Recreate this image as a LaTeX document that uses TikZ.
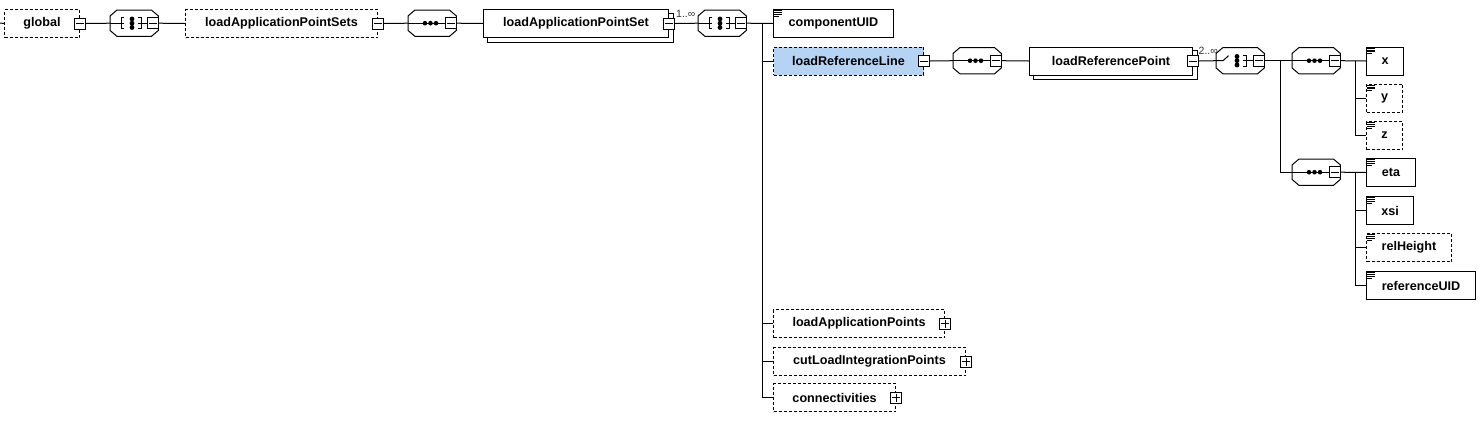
\documentclass[tikz,border=0pt]{standalone}
\usepackage{fontspec}
\setmainfont{Liberation Sans}
\definecolor{selblue}{RGB}{181,211,243}
\newcommand\elfont{\fontsize{12.6}{14}\selectfont\bfseries}
\newcommand\mlabfont{\fontsize{10.5}{12}\selectfont}
\tikzset{
  conn/.style={line width=1pt},
  elem/.style={draw, line width=1pt, fill=white, anchor=north west, font=\elfont, minimum height=28pt, inner sep=0pt},
  opt/.style={elem, dash pattern=on 3pt off 2pt},
  sqbox/.style={draw, line width=1pt, fill=white, minimum size=11pt, inner sep=0pt},
  comp/.style={minimum width=48pt, minimum height=26pt, anchor=north west, inner sep=0pt},
  mult/.style={font=\mlabfont, text=black!80, anchor=base west, inner sep=0pt}
}
\newcommand\mybminus[2]{\node[sqbox] (#1) at (#2) {};
  \draw[conn] ([xshift=2pt]#1.west) -- ([xshift=-2pt]#1.east);}
\newcommand\mybplus[2]{\node[sqbox] (#1) at (#2) {};
  \draw[conn] ([xshift=2pt]#1.west) -- ([xshift=-2pt]#1.east);
  \draw[conn] ([yshift=-2pt]#1.north) -- ([yshift=2pt]#1.south);}
\newcommand\compoct[1]{\draw[conn, fill=white] ([xshift=7pt]#1.north west) -- ([xshift=-7pt]#1.north east) -- ([yshift=-6pt]#1.north east) -- ([yshift=6pt]#1.south east) -- ([xshift=-7pt]#1.south east) -- ([xshift=7pt]#1.south west) -- ([yshift=6pt]#1.south west) -- ([yshift=-6pt]#1.north west) -- cycle;}
\newcommand\mydotcol[2]{\fill ([shift={(#2,4.3pt)}]#1.west) circle (2.4pt) ([xshift=#2]#1.west) circle (2.4pt) ([shift={(#2,-4.3pt)}]#1.west) circle (2.4pt);}
\newcommand\seqsym[2]{\draw[conn] (#1.west) -- (#2.west);
  \fill ([xshift=17pt]#1.west) circle (2.3pt) ([xshift=22.5pt]#1.west) circle (2.3pt) ([xshift=28pt]#1.west) circle (2.3pt);}
\newcommand\myrbrack[3]{% comp, x of bar, square
  \draw[conn] ([shift={(#2-3pt,5.5pt)}]#1.west) -- ([shift={(#2,5.5pt)}]#1.west) -- ([shift={(#2,-5.5pt)}]#1.west) -- ([shift={(#2-3pt,-5.5pt)}]#1.west);
  \draw[conn] ([xshift=#2-3pt]#1.west) -- (#3.west);}
\newcommand\allsym[2]{\draw[conn] (#1.west) -- ([xshift=14pt]#1.west);
  \draw[conn] ([shift={(14pt,5.5pt)}]#1.west) -- ([shift={(11pt,5.5pt)}]#1.west) -- ([shift={(11pt,-5.5pt)}]#1.west) -- ([shift={(14pt,-5.5pt)}]#1.west);
  \mydotcol{#1}{22pt}
  \myrbrack{#1}{31pt}{#2}}
\newcommand\choicesym[2]{\draw[conn] (#1.west) -- ([xshift=7pt]#1.west) -- ([shift={(12.5pt,5pt)}]#1.west);
  \mydotcol{#1}{21pt}
  \myrbrack{#1}{30pt}{#2}}
\newcommand\docicon[1]{\draw[line width=0.45pt] ([shift={(1pt,-1.6pt)}]#1.north west) -- ++(8pt,0pt) ([shift={(1pt,-3.4pt)}]#1.north west) -- ++(8pt,0pt) ([shift={(1pt,-5.2pt)}]#1.north west) -- ++(8pt,0pt) ([shift={(1pt,-7pt)}]#1.north west) -- ++(5pt,0pt);}
\newcommand\shadowbox[1]{\draw[conn] ([yshift=-4pt]#1.north east) -- ([shift={(4pt,-4pt)}]#1.north east) -- ([shift={(4pt,-4pt)}]#1.south east) -- ([shift={(4pt,-4pt)}]#1.south west) -- ([xshift=4pt]#1.south west);}
\begin{document}
\begin{tikzpicture}[x=1pt, y=-1pt]
\useasboundingbox (0,0) rectangle (1483,424);
% row 1
\coordinate (start) at (0,23);
\node[opt, minimum width=75pt] (global) at (4,9) {global};
\draw[conn] (start) -- (global.west);
\mybminus{mglobal}{global.east}
\node[comp] (c1) at (110,10) {};
\compoct{c1}
\mybminus{mc1}{[xshift=43pt]c1.west}
\allsym{c1}{mc1}
\draw[conn] (mglobal.east) -- (c1.west);
\node[opt, minimum width=192pt] (lAPSs) at (185,9) {loadApplicationPointSets};
\draw[conn] (mc1.east) -- (lAPSs.west);
\mybminus{mlAPSs}{lAPSs.east}
\node[comp] (c2) at (408,10) {};
\compoct{c2}
\mybminus{mc2}{[xshift=43pt]c2.west}
\seqsym{c2}{mc2}
\draw[conn] (mlAPSs.east) -- (c2.west);
\node[elem, minimum width=185pt] (lAPS) at (483,9) {loadApplicationPointSet};
\shadowbox{lAPS}
\draw[conn] (mc2.east) -- (lAPS.west);
\mybminus{mlAPS}{lAPS.east}
\node[mult] (m1) at (676,17) {1..∞};
\node[comp] (c3) at (698,10) {};
\compoct{c3}
\mybminus{mc3}{[xshift=43pt]c3.west}
\allsym{c3}{mc3}
\draw[conn] (mlAPS.east) -- (c3.west);
% children of loadApplicationPointSet
\coordinate (bus1) at (762,23);
\node[elem, minimum width=120pt] (cUID) at (773,9) {componentUID};
\docicon{cUID}
\draw[conn] (mc3.east) -- (cUID.west);
\node[opt, fill=selblue, minimum width=150pt] (lRL) at (773,46.5) {loadReferenceLine};
\mybminus{mlRL}{lRL.east}
\node[opt, minimum width=171pt] (lAPs) at (773,309) {loadApplicationPoints};
\mybplus{mlAPs}{lAPs.east}
\node[opt, minimum width=192pt] (cLIPs) at (773,347) {cutLoadIntegrationPoints};
\mybplus{mcLIPs}{cLIPs.east}
\node[opt, minimum width=122pt] (conns) at (773,383) {connectivities};
\mybplus{mconns}{conns.east}
\draw[conn] (bus1) |- (lRL.west);
\draw[conn] (bus1) |- (lAPs.west);
\draw[conn] (bus1) |- (cLIPs.west);
\draw[conn] (bus1) |- (conns.west);
% loadReferenceLine
\node[comp] (c4) at (953,47.5) {};
\compoct{c4}
\mybminus{mc4}{[xshift=43pt]c4.west}
\seqsym{c4}{mc4}
\draw[conn] (mlRL.east) -- (c4.west);
\node[elem, minimum width=163pt] (lRP) at (1029,46.5) {loadReferencePoint};
\shadowbox{lRP}
\draw[conn] (mc4.east) -- (lRP.west);
\mybminus{mlRP}{lRP.east}
\node[mult] (m2) at (1198.5,54) {2..∞};
\node[comp] (c5) at (1216,47.5) {};
\compoct{c5}
\mybminus{mc5}{[xshift=43pt]c5.west}
\choicesym{c5}{mc5}
\draw[conn] (mlRP.east) -- (c5.west);
% choice branches
\coordinate (bus2) at (1280,60.5);
\node[comp] (c6) at (1292,47.5) {};
\compoct{c6}
\mybminus{mc6}{[xshift=43pt]c6.west}
\seqsym{c6}{mc6}
\node[comp] (c7) at (1292,159) {};
\compoct{c7}
\mybminus{mc7}{[xshift=43pt]c7.west}
\seqsym{c7}{mc7}
\draw[conn] (mc5.east) -- (c6.west);
\draw[conn] (bus2) |- (c7.west);
% x y z
\coordinate (bus3) at (1355,60.5);
\node[elem, minimum width=37pt] (ex) at (1366,46.5) {x};
\docicon{ex}
\node[opt, minimum width=36pt] (ey) at (1366,83.5) {y};
\docicon{ey}
\node[opt, minimum width=36pt] (ez) at (1366,121) {z};
\docicon{ez}
\draw[conn] (mc6.east) -- (ex.west);
\draw[conn] (bus3) |- (ey.west);
\draw[conn] (bus3) |- (ez.west);
% eta xsi relHeight referenceUID
\coordinate (bus4) at (1355,172);
\node[elem, minimum width=49pt] (eta) at (1366,158) {eta};
\docicon{eta}
\node[elem, minimum width=47pt] (xsi) at (1366,196) {xsi};
\docicon{xsi}
\node[opt, minimum width=85pt] (relH) at (1366,233) {relHeight};
\docicon{relH}
\node[elem, minimum width=109pt] (refUID) at (1366,271) {referenceUID};
\docicon{refUID}
\draw[conn] (mc7.east) -- (eta.west);
\draw[conn] (bus4) |- (xsi.west);
\draw[conn] (bus4) |- (relH.west);
\draw[conn] (bus4) |- (refUID.west);
\end{tikzpicture}
\end{document}
